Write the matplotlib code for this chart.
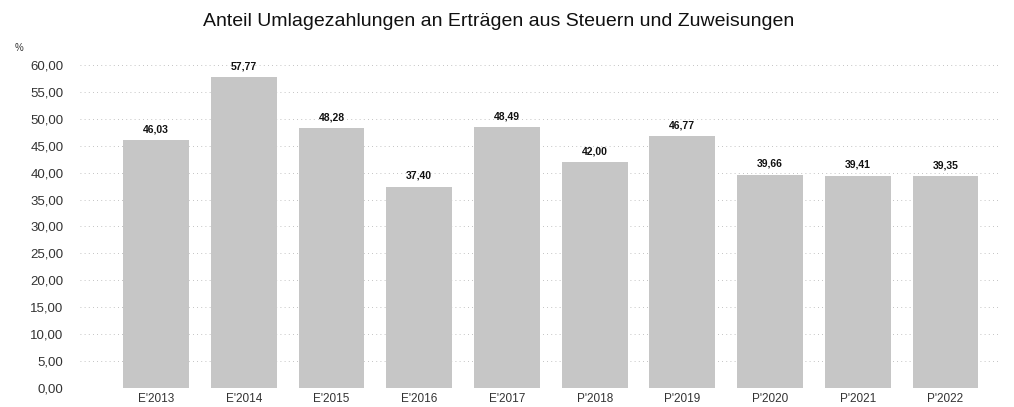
import matplotlib
matplotlib.use("Agg")
import matplotlib.pyplot as plt

categories = ["E'2013", "E'2014", "E'2015", "E'2016", "E'2017", "P'2018", "P'2019", "P'2020", "P'2021", "P'2022"]
values = [46.03, 57.77, 48.28, 37.40, 48.49, 42.00, 46.77, 39.66, 39.41, 39.35]
value_labels = ["46,03", "57,77", "48,28", "37,40", "48,49", "42,00", "46,77", "39,66", "39,41", "39,35"]
yticks = [0, 5, 10, 15, 20, 25, 30, 35, 40, 45, 50, 55, 60]
ytick_labels = [("%.2f" % v).replace(".", ",") for v in yticks]

plt.rcParams['font.family'] = ['Liberation Sans', 'DejaVu Sans']
fig = plt.figure(figsize=(10.14, 4.07), dpi=100)
ax = fig.add_axes([0.079, 0.047, 0.907, 0.793])

x = list(range(len(categories)))
ax.bar(x, values, width=0.75, color="#c6c6c6", edgecolor="none", zorder=2)
for xi, v, lab in zip(x, values, value_labels):
    ax.text(xi, v + 1.1, lab, ha="center", va="bottom", fontsize=7.5, fontweight="bold", color="#111111")

ax.set_xlim(-0.867, 9.62)
ax.set_ylim(0, 60)
ax.set_yticks(yticks)
ax.set_yticklabels(ytick_labels, fontsize=9.5, color="#333333")
ax.set_xticks(x)
ax.set_xticklabels(categories, fontsize=8.5, color="#333333")
ax.tick_params(axis="y", length=0, pad=12)
ax.tick_params(axis="x", length=0, pad=4)
ax.grid(axis="y", linestyle=(0, (1, 4)), color="#b0b0b0", linewidth=0.6, zorder=0)
for s in ax.spines.values():
    s.set_visible(False)

fig.text(0.014, 0.875, "%", fontsize=7, color="#333333")
fig.text(0.492, 0.948, "Anteil Umlagezahlungen an Erträgen aus Steuern und Zuweisungen",
         ha="center", va="center", fontsize=14, color="#111111")

fig.savefig("out.png", dpi=100)
